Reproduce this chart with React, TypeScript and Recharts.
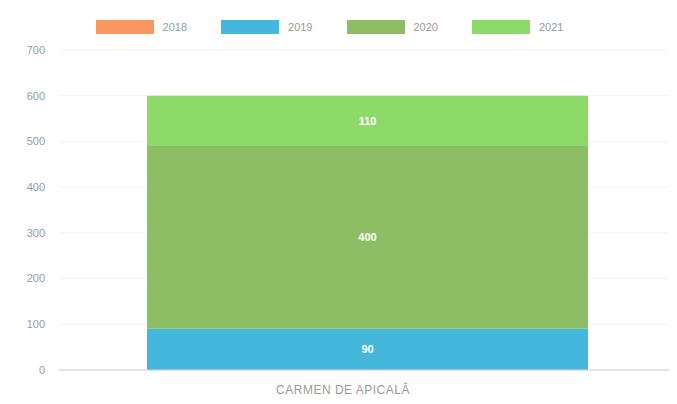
import { BarChart, Bar, XAxis, YAxis, CartesianGrid, Legend, LabelList } from 'recharts';

const categories = ['CARMEN DE APICALĂ'];
const years = ['2018', '2019', '2020', '2021'];
const values2018 = [0];
const values2019 = [90];
const values2020 = [400];
const values2021 = [110];
const yTicks = [0, 100, 200, 300, 400, 500, 600, 700];

const colors: Record<string, string> = {
  '2018': '#F7975F',
  '2019': '#44B7DD',
  '2020': '#8DBE66',
  '2021': '#8DD96A',
};

const data = categories.map((name, i) => ({
  name,
  '2018': values2018[i],
  '2019': values2019[i],
  '2020': values2020[i],
  '2021': values2021[i],
}));

const FONT = '"Liberation Sans", Arial, sans-serif';

function LegendContent() {
  return (
    <div style={{ display: 'flex', justifyContent: 'center', gap: 34, fontFamily: FONT, fontSize: 11, color: '#9a9a9a', paddingRight: 20 }}>
      {years.map((y) => (
        <div key={y} style={{ display: 'flex', alignItems: 'center', gap: 9 }}>
          <span style={{ display: 'inline-block', width: 58, height: 14, background: colors[y] }} />
          <span>{y}</span>
        </div>
      ))}
    </div>
  );
}

const hideZero = (v: unknown) => (Number(v) === 0 ? '' : String(v));

export default function App() {
  return (
    <div style={{ margin: -8, width: 677, height: 404, background: '#fff' }}>
      <BarChart width={677} height={404} data={data} margin={{ top: 36, right: 2, left: 4, bottom: 4 }}>
        <CartesianGrid vertical={false} stroke="#f3f3f3" />
        <Legend verticalAlign="top" content={<LegendContent />} wrapperStyle={{ top: 20 }} />
        <XAxis
          dataKey="name"
          tickLine={false}
          axisLine={{ stroke: '#cfcfcf' }}
          tick={{ fill: '#9a9a9a', fontSize: 12, fontFamily: FONT, letterSpacing: 0.5, dx: -24 }}
          tickMargin={9}
          height={30}
        />
        <YAxis
          domain={[0, 700]}
          ticks={yTicks}
          axisLine={false}
          tickLine={false}
          tickMargin={8}
          width={55}
          tick={{ fill: '#9a9a9a', fontSize: 11, fontFamily: FONT }}
        />
        {years.map((y) => (
          <Bar key={y} dataKey={y} stackId="a" fill={colors[y]} barSize={441} isAnimationActive={false}>
            <LabelList dataKey={y} position="center" formatter={hideZero} fill="#fff" fontSize={11} fontWeight="bold" fontFamily={FONT} />
          </Bar>
        ))}
      </BarChart>
    </div>
  );
}
